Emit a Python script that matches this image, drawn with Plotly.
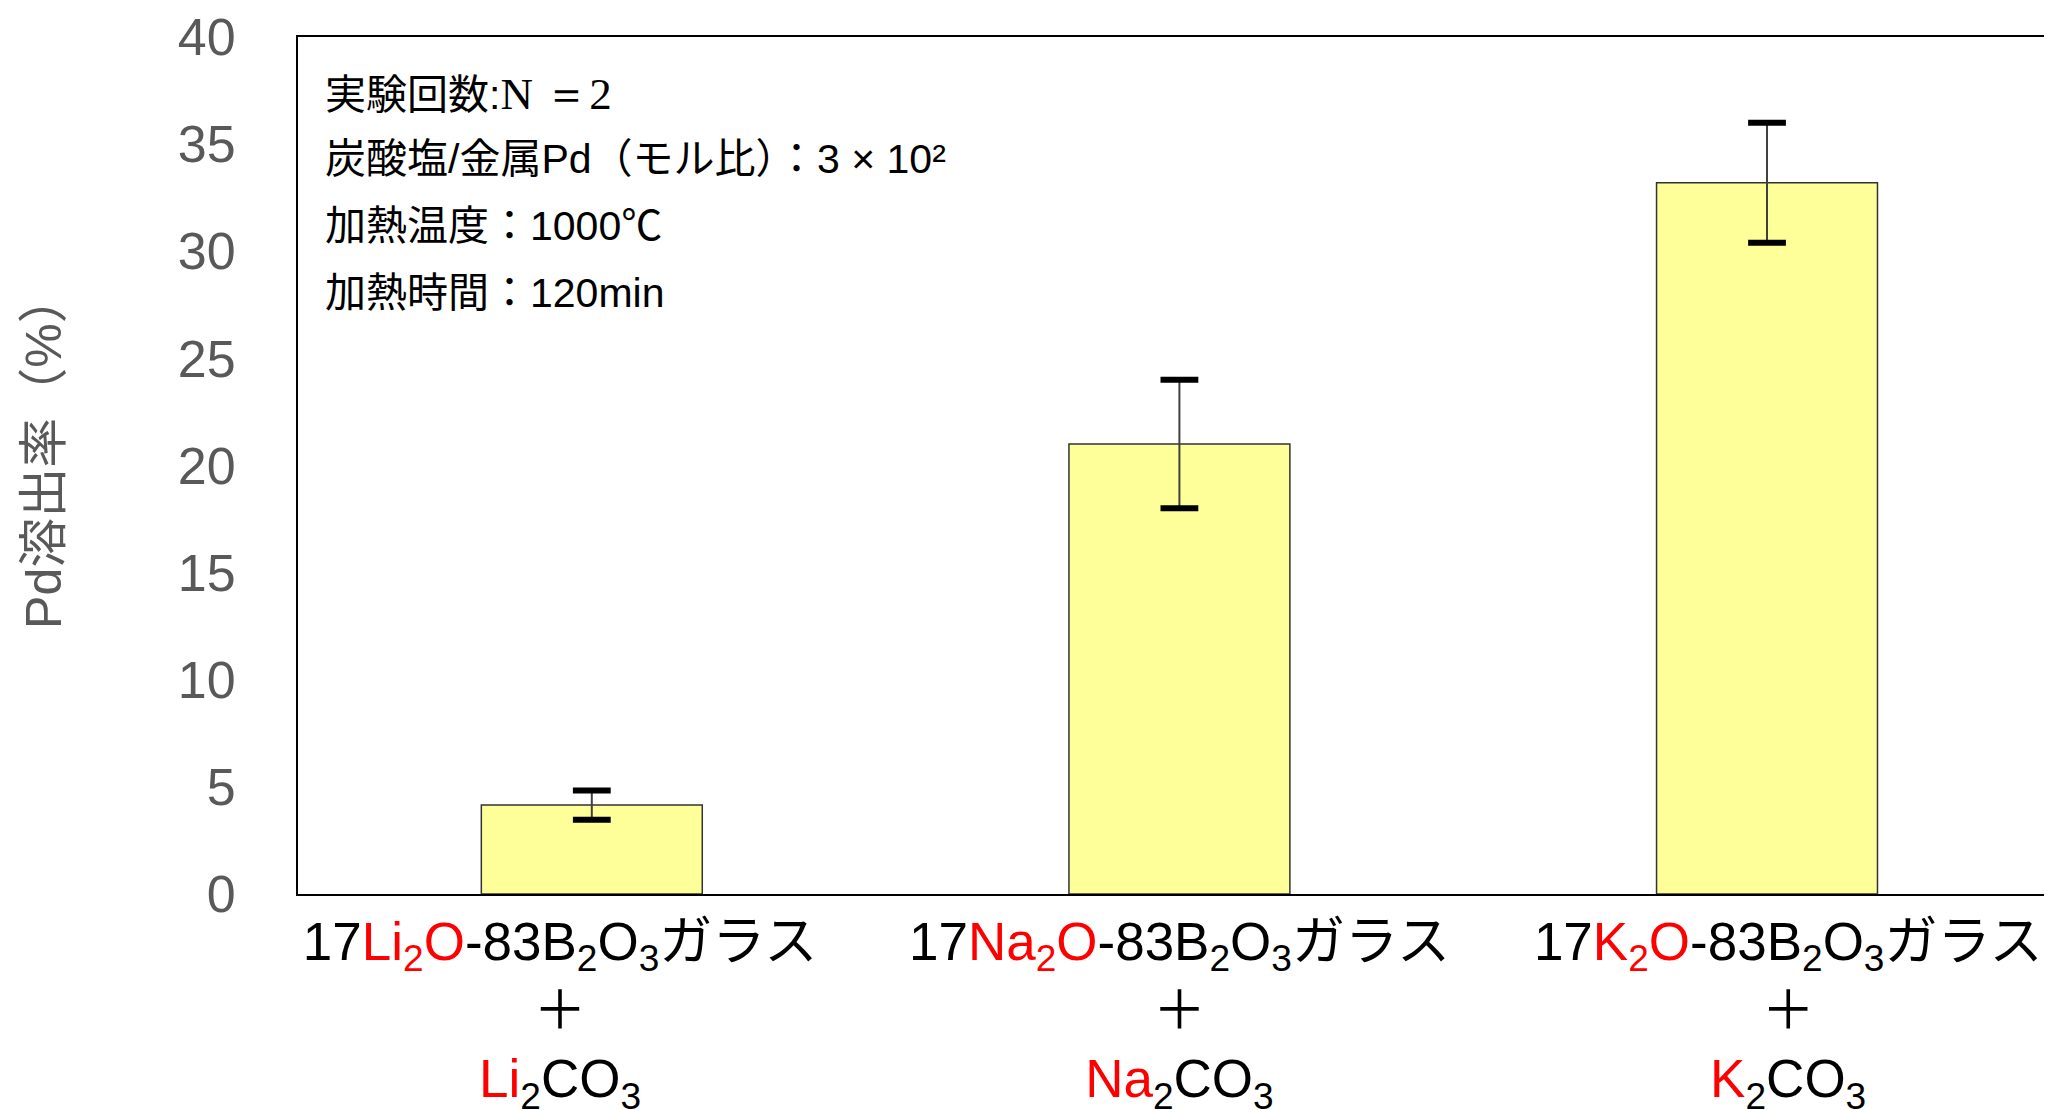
import plotly.graph_objects as go

# ---- data ----
categories = ["Li", "Na", "K"]
tick_labels = [
    "17<span style='color:#ff0000'>Li<sub>2</sub>O</span>-83B<sub>2</sub>O<sub>3</sub>ガラス<br>＋<br><span style='color:#ff0000'>Li</span><sub>2</sub>CO<sub>3</sub>",
    "17<span style='color:#ff0000'>Na<sub>2</sub>O</span>-83B<sub>2</sub>O<sub>3</sub>ガラス<br>＋<br><span style='color:#ff0000'>Na</span><sub>2</sub>CO<sub>3</sub>",
    "17<span style='color:#ff0000'>K<sub>2</sub>O</span>-83B<sub>2</sub>O<sub>3</sub>ガラス<br>＋<br><span style='color:#ff0000'>K</span><sub>2</sub>CO<sub>3</sub>",
]
tick_positions = [-0.054, 1.0, 2.036]
values = [4.15, 21.0, 33.2]
errors = [0.68, 3.0, 2.8]
y_ticks = [0, 5, 10, 15, 20, 25, 30, 35, 40]
notes = [
    "実験回数:<span style='font-family:Liberation Serif;font-size:45px'>N ＝2</span>",
    "炭酸塩/金属Pd（モル比）：3 × 10²",
    "加熱温度：1000℃",
    "加熱時間：120min",
]
note_y = [0.934, 0.858, 0.780, 0.701]

FONT = "Liberation Sans, Arial, Noto Sans CJK JP, sans-serif"

x = list(range(len(categories)))
fig = go.Figure()
fig.add_trace(go.Bar(
    x=x, y=values, width=0.376,
    marker=dict(color="#FFFF99", line=dict(color="#333333", width=1.5)),
    error_y=dict(type="data", array=errors, visible=True, color="#404040",
                 thickness=2, width=0),
    showlegend=False, hoverinfo="skip",
))
# thick caps of the error bars
cap_x = x + x
cap_y = [v + e for v, e in zip(values, errors)] + [v - e for v, e in zip(values, errors)]
fig.add_trace(go.Scatter(
    x=cap_x, y=cap_y, mode="markers",
    marker=dict(symbol="line-ew", size=27, line=dict(color="black", width=6)),
    showlegend=False, hoverinfo="skip",
))

PLOT_W = 2052 - 290
for txt, yy in zip(notes, note_y):
    fig.add_annotation(text=txt, xref="paper", yref="paper", x=25 / PLOT_W, y=yy,
                       xanchor="left", yanchor="middle", showarrow=False,
                       font=dict(family=FONT, size=41, color="black"))

fig.add_annotation(text="Pd溶出率（%）", xref="paper", yref="paper",
                   x=(44 - 298) / PLOT_W, y=0.517, xanchor="center", yanchor="middle",
                   textangle=-90, showarrow=False,
                   font=dict(family=FONT, size=50, color="#595959"))

fig.update_layout(
    width=2052, height=1110,
    margin=dict(l=290, r=0, t=29, b=224),
    paper_bgcolor="white", plot_bgcolor="white",
    font=dict(family=FONT),
    xaxis=dict(range=[-0.5, 2.4986], tickmode="array", tickvals=tick_positions,
               ticktext=tick_labels,
               showline=True, linecolor="black", linewidth=2, mirror=True,
               ticks="", showgrid=False, zeroline=False,
               tickfont=dict(family=FONT, size=53, color="black")),
    yaxis=dict(range=[0, 40], tickmode="array", tickvals=y_ticks,
               showline=True, linecolor="black", linewidth=2,
               ticks="", showgrid=False, zeroline=False, ticklabelstandoff=50,
               tickfont=dict(family=FONT, size=52, color="#595959")),
)

fig.write_html("out.html")
